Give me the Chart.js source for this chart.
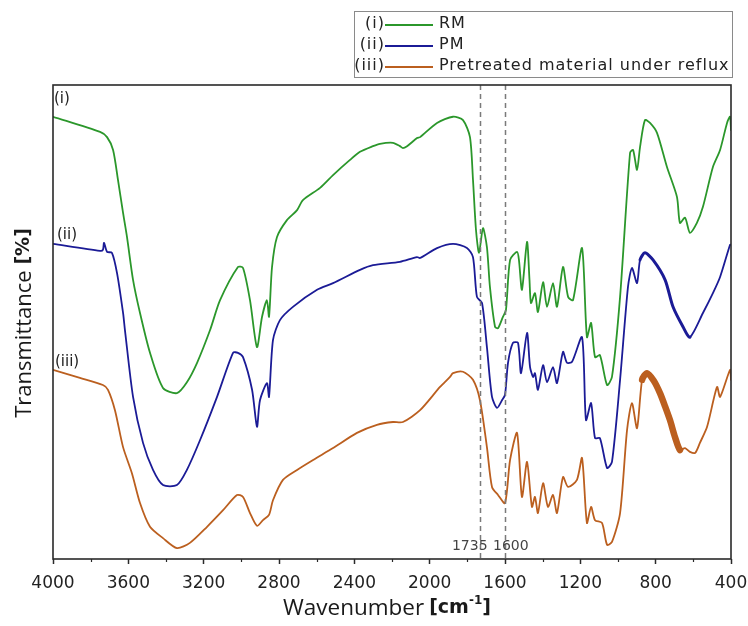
<!DOCTYPE html>
<html>
<head>
<meta charset="utf-8">
<script src="https://cdn.jsdelivr.net/npm/chart.js@4"></script>
<style>
  html, body { margin: 0; padding: 0; background: #fff; }
  #wrap { width: 748px; height: 626px; position: relative; }
</style>
</head>
<body>
<div id="wrap"><canvas id="ftir"></canvas></div>
<script>
// FTIR spectra, transmittance in arbitrary units (0..100)

const seriesTags = ["(i)", "(ii)", "(iii)"];
const seriesNames = ["RM", "PM", "Pretreated material under reflux"];
const seriesColors = ["#2b972b", "#1b1b96", "#bb5f1f"];

const wnRM = [4000, 3750, 3713, 3681, 3655, 3628, 3607, 3575, 3538, 3485, 3416, 3342, 3289, 3235, 3166, 3113,
  3018, 2991, 2954, 2917, 2890, 2864, 2853, 2837, 2811, 2758, 2704, 2673, 2582, 2513, 2423, 2370, 2301, 2264,
  2195, 2158, 2142, 2120, 2067, 2051, 1961, 1876, 1823, 1786, 1770, 1754, 1738, 1717, 1696, 1680, 1653, 1637,
  1611, 1595, 1573, 1536, 1526, 1510, 1483, 1470, 1462, 1441, 1425, 1398, 1377, 1345, 1324, 1292, 1265, 1239,
  1191, 1165, 1143, 1122, 1096, 1058, 1032, 989, 936, 920, 899, 883, 857, 830, 793, 740, 687, 671, 644, 618,
  581, 549, 496, 458, 421, 405, 400];
const tRM = [93.3, 90.1, 89.0, 86.3, 80.0, 73.0, 67.9, 58.9, 51.9, 43.5, 36.1, 35.0, 37.3, 41.4, 48.3, 54.6,
  61.6, 61.4, 54.6, 44.7, 51.1, 54.6, 51.1, 61.6, 67.9, 71.5, 73.6, 75.7, 78.3, 81.0, 84.2, 85.9, 87.1, 87.6,
  87.8, 87.1, 86.7, 87.1, 88.8, 89.0, 92.0, 93.3, 92.6, 89.0, 80.0, 69.4, 64.6, 69.8, 65.8, 57.4, 49.0, 48.7,
  51.1, 52.5, 63.1, 64.8, 63.1, 56.8, 66.9, 58.9, 54.0, 56.1, 52.1, 58.4, 53.2, 58.2, 53.2, 61.6, 55.3, 54.6,
  65.6, 46.8, 49.8, 42.6, 43.0, 36.7, 38.4, 55.3, 85.7, 86.3, 82.1, 86.9, 92.6, 92.0, 89.9, 82.7, 76.4, 70.9,
  72.0, 68.8, 70.9, 74.3, 82.7, 86.3, 92.0, 93.3, 90.5];

const wnPM = [4000, 3750, 3735, 3729, 3713, 3687, 3660, 3628, 3618, 3575, 3522, 3469, 3416, 3342, 3289, 3219,
  3129, 3044, 3018, 2991, 2943, 2917, 2901, 2864, 2853, 2832, 2795, 2726, 2598, 2513, 2370, 2301, 2158, 2067,
  2051, 1961, 1876, 1802, 1770, 1749, 1722, 1696, 1669, 1642, 1616, 1600, 1584, 1558, 1531, 1515, 1483, 1467,
  1451, 1441, 1425, 1398, 1377, 1345, 1324, 1292, 1271, 1244, 1191, 1170, 1143, 1122, 1096, 1058, 1032, 989,
  947, 926, 899, 883, 857, 814, 750, 708, 655, 618, 549, 496, 458, 405, 400];
const tPM = [66.5, 65.0, 65.2, 66.7, 64.8, 64.6, 60.3, 51.9, 48.3, 34.2, 24.5, 18.8, 15.6, 15.6, 18.8, 25.1,
  34.2, 43.5, 43.5, 42.6, 35.7, 27.9, 33.5, 37.1, 34.2, 46.2, 50.4, 53.2, 56.8, 58.2, 61.0, 62.0, 62.7, 63.7,
  63.5, 65.6, 66.5, 65.6, 63.7, 55.3, 54.0, 44.7, 34.2, 31.9, 33.5, 34.6, 41.4, 45.6, 45.6, 39.2, 47.7, 40.5,
  38.4, 39.2, 35.7, 40.9, 37.3, 40.5, 37.1, 43.7, 41.4, 41.6, 46.8, 29.3, 32.9, 25.5, 25.5, 19.2, 20.5, 37.8,
  57.4, 61.4, 58.2, 63.1, 64.6, 63.1, 58.9, 53.2, 49.0, 46.8, 51.9, 56.1, 59.5, 66.3, 66.3];

const wnPT = [4000, 3857, 3735, 3708, 3671, 3628, 3581, 3538, 3485, 3416, 3342, 3273, 3182, 3097, 3023, 2991,
  2954, 2917, 2885, 2853, 2832, 2779, 2704, 2619, 2513, 2386, 2280, 2195, 2142, 2051, 1945, 1892, 1876, 1823,
  1770, 1733, 1696, 1669, 1637, 1600, 1573, 1536, 1510, 1483, 1457, 1441, 1425, 1398, 1372, 1345, 1324, 1292,
  1265, 1218, 1191, 1165, 1143, 1122, 1085, 1058, 1032, 989, 952, 926, 899, 872, 846, 810, 777, 750, 724, 698,
  671, 644, 618, 590, 565, 527, 474, 458, 405, 400];
const tPT = [39.9, 38.2, 36.7, 35.7, 31.4, 23.6, 18.1, 11.8, 6.8, 4.4, 2.3, 3.4, 6.8, 10.3, 13.5, 13.1,
  9.7, 7.0, 8.2, 9.3, 12.4, 16.7, 18.8, 20.9, 23.4, 26.6, 28.3, 28.9, 28.9, 31.4, 36.3, 38.4, 39.2, 39.5,
  37.8, 33.5, 23.6, 15.2, 13.5, 11.8, 20.9, 26.6, 13.1, 20.5, 11.0, 13.1, 9.7, 16.0, 11.0, 13.5, 9.7, 17.3,
  15.2, 16.7, 21.3, 7.6, 11.0, 8.2, 7.6, 3.0, 3.6, 9.7, 27.2, 32.9, 27.6, 37.8, 39.2, 37.6, 35.0, 32.2, 29.3, 25.8,
  23.0, 23.4, 22.6, 22.4, 24.5, 27.9, 36.3, 34.2, 39.9, 37.8];

// spans (cm-1) where the traces are noisy and read as a thicker band
const noisyPM = [883, 618];
const noisyPT = [872, 671];

const xTicks = [4000, 3600, 3200, 2800, 2400, 2000, 1600, 1200, 800, 400];
const markers = [1735, 1600];

function toPoints(xs, ys) {
    return xs.map((x, i) => ({ x: x, y: ys[i] }));
}

function bandWidth(span, wide, thin) {
    return seg => {
        const a = seg.p0.parsed.x, b = seg.p1.parsed.x;
        return (a <= span[0] && b >= span[1]) ? wide : thin;
    };
}

const FONT = "'DejaVu Sans', Verdana, sans-serif";

// frame, minor ticks, marker lines, titles, curve tags and the boxed legend
const decorPlugin = {
    id: "decor",
    afterDatasetsDraw(chart) {
        const ctx = chart.ctx;
        const area = chart.chartArea;
        const xs = chart.scales.x;

        // dashed marker lines
        ctx.save();
        ctx.strokeStyle = "#7a7a7a";
        ctx.lineWidth = 1.5;
        ctx.setLineDash([5, 4]);
        markers.forEach(m => {
            const px = Math.round(xs.getPixelForValue(m)) + 0.5;
            ctx.beginPath();
            ctx.moveTo(px, area.top);
            ctx.lineTo(px, area.bottom);
            ctx.stroke();
        });
        ctx.setLineDash([]);
        ctx.fillStyle = "#444";
        ctx.font = "14px " + FONT;
        ctx.textBaseline = "middle";
        ctx.textAlign = "right";
        ctx.fillText(String(markers[0]), xs.getPixelForValue(markers[0]) + 8, area.bottom - 13);
        ctx.textAlign = "left";
        ctx.fillText(String(markers[1]), xs.getPixelForValue(markers[1]) - 12, area.bottom - 13);
        ctx.restore();

        // frame
        ctx.save();
        ctx.strokeStyle = "#2a2a2a";
        ctx.lineWidth = 1.6;
        ctx.strokeRect(area.left, area.top, area.right - area.left, area.bottom - area.top);

        // minor ticks
        ctx.lineWidth = 1.2;
        for (let v = 3800; v > 400; v -= 400) {
            const px = Math.round(xs.getPixelForValue(v)) + 0.5;
            ctx.beginPath();
            ctx.moveTo(px, area.bottom);
            ctx.lineTo(px, area.bottom + 3);
            ctx.stroke();
        }
        ctx.restore();

        // curve tags
        ctx.save();
        ctx.fillStyle = "#222";
        ctx.font = "15px " + FONT;
        ctx.textBaseline = "middle";
        ctx.textAlign = "left";
        const tagY = [tRM[0], tPM[0], tPT[0]];
        const tagDx = [1, 4, 2];
        const tagDy = [-18, -9, -8];
        tagY.forEach((v, i) => {
            const py = chart.scales.y.getPixelForValue(v) + tagDy[i];
            ctx.fillText(seriesTags[i], area.left + tagDx[i], py);
        });
        ctx.restore();

        // axis titles
        ctx.save();
        ctx.fillStyle = "#1a1a1a";
        ctx.textBaseline = "alphabetic";
        const big = "22.5px 'Open Sans', sans-serif";
        const bold = "bold 19px " + FONT;
        const sup = "bold 12px " + FONT;
        ctx.font = big;
        const wTxt = "Wavenumber";
        const w1 = ctx.measureText(wTxt).width;
        ctx.font = bold;
        const wa = ctx.measureText("[cm").width;
        ctx.font = sup;
        const wb = ctx.measureText("-1").width;
        let x0 = 283;
        const by = 615;
        ctx.font = big;
        ctx.textAlign = "left";
        ctx.fillText(wTxt, x0, by);
        x0 += w1 + 5;
        ctx.font = bold;
        ctx.fillText("[cm", x0, by - 2);
        x0 += wa;
        ctx.font = sup;
        ctx.fillText("-1", x0, by - 11);
        x0 += wb;
        ctx.font = bold;
        ctx.fillText("]", x0, by - 2);

        ctx.translate(25, 323);
        ctx.rotate(-Math.PI / 2);
        ctx.textBaseline = "middle";
        const tf1 = "22px 'Open Sans', sans-serif";
        const tf2 = "bold 19px " + FONT;
        const t1 = "Transmittance ";
        const t2 = "[%]";
        ctx.font = tf1;
        const tw1 = ctx.measureText(t1).width;
        ctx.font = tf2;
        const tw2 = ctx.measureText(t2).width;
        const start = -(tw1 + tw2) / 2;
        ctx.textAlign = "left";
        ctx.font = tf1;
        ctx.fillText(t1, start, 0);
        ctx.font = tf2;
        ctx.fillText(t2, start + tw1, -1);
        ctx.restore();

        // legend box
        ctx.save();
        const lx = 354, ly = 11, lw = 378, lh = 66;
        ctx.fillStyle = "#fff";
        ctx.fillRect(lx, ly, lw, lh);
        ctx.strokeStyle = "#8a8a8a";
        ctx.lineWidth = 1;
        ctx.strokeRect(lx + 0.5, ly + 0.5, lw, lh);
        ctx.font = "16px " + FONT;
        ctx.letterSpacing = "1px";
        ctx.textBaseline = "middle";
        const rowY = [24, 45, 66];
        seriesNames.forEach((name, i) => {
            ctx.fillStyle = "#222";
            ctx.textAlign = "right";
            ctx.fillText(seriesTags[i], 385, rowY[i]);
            ctx.strokeStyle = seriesColors[i];
            ctx.lineWidth = 2.2;
            ctx.beginPath();
            ctx.moveTo(385, rowY[i] + 1);
            ctx.lineTo(433, rowY[i] + 1);
            ctx.stroke();
            ctx.textAlign = "left";
            ctx.fillText(name, 439, rowY[i]);
        });
        ctx.restore();
    }
};

const datasets = [
    { label: seriesNames[0], data: toPoints(wnRM, tRM), borderColor: seriesColors[0] },
    { label: seriesNames[1], data: toPoints(wnPM, tPM), borderColor: seriesColors[1],
      segment: { borderWidth: bandWidth(noisyPM, 3.0, 1.8) } },
    { label: seriesNames[2], data: toPoints(wnPT, tPT), borderColor: seriesColors[2],
      segment: { borderWidth: bandWidth(noisyPT, 6.5, 1.8) } }
].map(d => Object.assign(d, {
    borderWidth: 1.8,
    borderJoinStyle: "round",
    borderCapStyle: "round",
    pointRadius: 0,
    tension: 0.25,
    fill: false
}));

new Chart(document.getElementById("ftir"), {
    type: "line",
    data: { datasets: datasets },
    options: {
        responsive: true,
        maintainAspectRatio: false,
        animation: false,
        layout: { padding: { left: 53, right: 17, top: 85, bottom: 0 } },
        plugins: {
            legend: { display: false },
            tooltip: { enabled: false }
        },
        scales: {
            x: {
                type: "linear",
                reverse: true,
                min: 400,
                max: 4000,
                afterFit(scale) {
                    scale.height = 67;
                    scale.paddingLeft = 0;
                    scale.paddingRight = 0;
                },
                afterBuildTicks(scale) { scale.ticks = xTicks.map(v => ({ value: v })); },
                border: { display: false },
                grid: {
                    drawOnChartArea: false,
                    drawTicks: true,
                    tickLength: 5,
                    tickWidth: 1.5,
                    tickColor: "#2a2a2a"
                },
                ticks: {
                    color: "#222",
                    font: { family: "'DejaVu Sans', Verdana, sans-serif", size: 17 },
                    padding: 9,
                    maxRotation: 0,
                    autoSkip: false,
                    callback: v => String(v)
                }
            },
            y: {
                display: false,
                min: 0,
                max: 100
            }
        }
    },
    plugins: [decorPlugin]
});
</script>
</body>
</html>
